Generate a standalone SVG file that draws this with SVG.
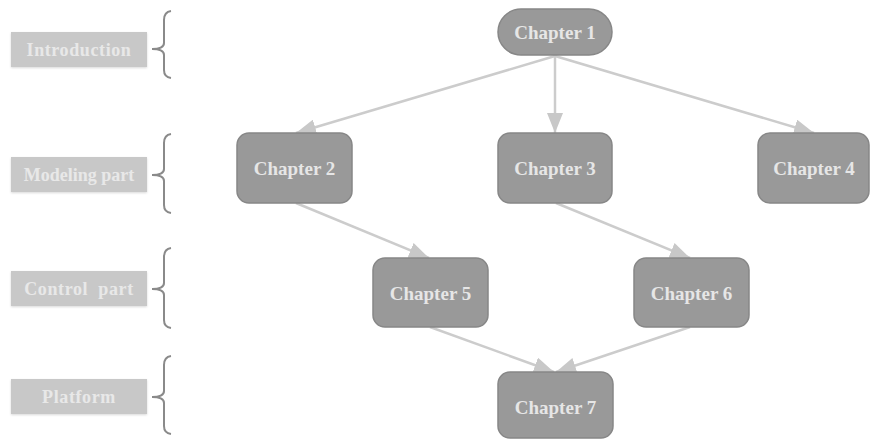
<svg xmlns="http://www.w3.org/2000/svg" width="871" height="440" viewBox="0 0 871 440">
<style>
.node{fill:#999999;stroke:#878787;stroke-width:1.5}
.ntext{font-family:"Liberation Serif",serif;font-weight:bold;font-size:19px;fill:#e6e6e6;text-anchor:middle}
.lab{fill:#c8c8c8}
.ltext{font-family:"Liberation Serif",serif;font-weight:bold;font-size:18px;fill:#e8e8e8;text-anchor:middle}
.brace{fill:none;stroke:#8a8a8a;stroke-width:2}
.edge{stroke:#cccccc;stroke-width:2.5;fill:none;marker-end:url(#ah)}
</style>
<defs>
<marker id="ah" viewBox="0 0 20 16" refX="20" refY="8" markerWidth="20" markerHeight="16" markerUnits="userSpaceOnUse" orient="auto"><path d="M0,0 L20,8 L0,16 z" fill="#c8c8c8"/></marker>
<filter id="sh" x="-10%" y="-20%" width="120%" height="140%"><feDropShadow dx="0" dy="1" stdDeviation="1.2" flood-color="#000" flood-opacity="0.15"/></filter>
</defs>
<rect width="871" height="440" fill="#ffffff"/>
<g id="labels">
<g id="lab-intro"><rect class="lab" x="11" y="32" width="136" height="35" filter="url(#sh)"/><text class="ltext" x="79" y="56" letter-spacing="0.6">Introduction</text></g>
<g id="lab-model"><rect class="lab" x="11" y="157" width="136" height="35" filter="url(#sh)"/><text class="ltext" x="79" y="181">Modeling part</text></g>
<g id="lab-control"><rect class="lab" x="11" y="271" width="136" height="35" filter="url(#sh)"/><text class="ltext" x="79" y="295" letter-spacing="0.6" xml:space="preserve">Control  part</text></g>
<g id="lab-platform"><rect class="lab" x="11" y="379" width="136" height="35" filter="url(#sh)"/><text class="ltext" x="79" y="403" letter-spacing="0.6">Platform</text></g>
</g>
<g id="braces">
<path class="brace" d="M171,11 Q164,12 164,20 L164,43 Q164,49 152,49 Q164,49 164,55 L164,70 Q164,77 171,78"/>
<path class="brace" d="M171,134 Q164,135 164,143 L164,169 Q164,175 152,175 Q164,175 164,181 L164,205 Q164,212 171,213"/>
<path class="brace" d="M171,248 Q164,249 164,257 L164,283 Q164,289 152,289 Q164,289 164,295 L164,320 Q164,327 171,328"/>
<path class="brace" d="M171,356 Q164,357 164,365 L164,391 Q164,397 152,397 Q164,397 164,403 L164,426 Q164,433 171,434"/>
</g>
<g id="connectors">
<line class="edge" x1="555" y1="56" x2="296" y2="133"/>
<line class="edge" x1="555" y1="56" x2="555" y2="133"/>
<line class="edge" x1="555" y1="56" x2="814" y2="133"/>
<line class="edge" x1="296" y1="203" x2="429" y2="258"/>
<line class="edge" x1="556" y1="203" x2="690" y2="258"/>
<line class="edge" x1="430" y1="327" x2="554" y2="372"/>
<line class="edge" x1="690" y1="327" x2="556" y2="372"/>
</g>
<g id="ch1"><rect class="node" x="498" y="9" width="114" height="46" rx="23"/><text class="ntext" x="555" y="39">Chapter 1</text></g>
<g id="ch2"><rect class="node" x="237" y="133" width="115" height="70" rx="12"/><text class="ntext" x="294.5" y="175">Chapter 2</text></g>
<g id="ch3"><rect class="node" x="498" y="133" width="114" height="70" rx="12"/><text class="ntext" x="555" y="175">Chapter 3</text></g>
<g id="ch4"><rect class="node" x="758" y="133" width="111" height="70" rx="12"/><text class="ntext" x="814" y="175">Chapter 4</text></g>
<g id="ch5"><rect class="node" x="373" y="258" width="115" height="69" rx="12"/><text class="ntext" x="430.5" y="300">Chapter 5</text></g>
<g id="ch6"><rect class="node" x="634" y="258" width="115" height="69" rx="12"/><text class="ntext" x="691.5" y="300">Chapter 6</text></g>
<g id="ch7"><rect class="node" x="498" y="372" width="115" height="66" rx="12"/><text class="ntext" x="555.5" y="414">Chapter 7</text></g>
</svg>
